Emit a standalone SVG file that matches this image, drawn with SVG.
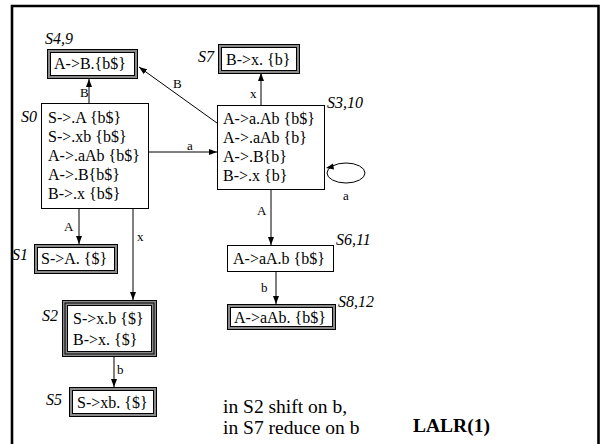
<svg xmlns="http://www.w3.org/2000/svg" width="604" height="444" viewBox="0 0 604 444" font-family="'Liberation Serif', 'Times New Roman', serif">
<defs>
<marker id="ah" markerWidth="8" markerHeight="6" refX="8" refY="3" orient="auto" markerUnits="userSpaceOnUse">
<path d="M0,0 L8,3 L0,6 Z" fill="#000"/>
</marker>
</defs>
<style>
text{font-family:'Liberation Serif','Times New Roman',serif;fill:#000}
.t{font-size:16px}
.lab{font-size:16px;font-style:italic}
.el{font-size:13px}
.big{font-size:19.5px}
.bold{font-size:19.5px;font-weight:bold}
.single{fill:#fff;stroke:#000;stroke-width:1}
.dbl-o{fill:#8a8a8a;stroke:#000;stroke-width:1}
.dbl-i{fill:#fff;stroke:#000;stroke-width:1}
.c{fill:none;stroke:#000;stroke-width:1;marker-end:url(#ah)}
</style>
<rect x="0" y="0" width="604" height="444" fill="#fff"/>
<path d="M12,444 V6 H598.5 V444" fill="none" stroke="#000" stroke-width="2.6"/>

<g id="connectors">
<line class="c" x1="89" y1="103" x2="89" y2="79"/>
<text class="el" x="80" y="97">B</text>
<line class="c" x1="217" y1="123" x2="139" y2="67"/>
<text class="el" x="173" y="88">B</text>
<line class="c" x1="148" y1="152" x2="217" y2="152"/>
<text class="el" x="187" y="150">a</text>
<line class="c" x1="261" y1="105" x2="261" y2="73"/>
<text class="el" x="250" y="98">x</text>
<ellipse cx="346" cy="173" rx="19" ry="10" fill="none" stroke="#000" stroke-width="1"/>
<path d="M326,168 L333,163.5 L334,169.5 Z" fill="#000"/>
<text class="el" x="343" y="200">a</text>
<line class="c" x1="271" y1="189" x2="271" y2="245"/>
<text class="el" x="257" y="215">A</text>
<line class="c" x1="276" y1="271" x2="276" y2="304"/>
<text class="el" x="261" y="292">b</text>
<line class="c" x1="79" y1="208" x2="79" y2="244"/>
<text class="el" x="64" y="231">A</text>
<line class="c" x1="133" y1="208" x2="133" y2="300"/>
<text class="el" x="137" y="241">x</text>
<line class="c" x1="114" y1="356" x2="114" y2="387"/>
<text class="el" x="117" y="374">b</text>
</g>

<g id="S4_9">
<rect class="dbl-o" x="47.5" y="49.5" width="90" height="29"/>
<rect class="dbl-i" x="50.5" y="52.5" width="84" height="23"/>
<text class="t" x="54" y="69">A-&gt;B.{b$}</text>
<text class="lab" x="45" y="44">S4,9</text>
</g>

<g id="S0">
<rect class="single" x="41.5" y="103.5" width="107" height="105"/>
<text class="t" x="48" y="123">S-&gt;.A {b$}</text>
<text class="t" x="48" y="142">S-&gt;.xb {b$}</text>
<text class="t" x="48" y="161">A-&gt;.aAb {b$}</text>
<text class="t" x="48" y="180">A-&gt;.B{b$}</text>
<text class="t" x="48" y="199">B-&gt;.x {b$}</text>
<text class="lab" x="21" y="122">S0</text>
</g>

<g id="S3_10">
<rect class="single" x="217.5" y="105.5" width="107" height="84"/>
<text class="t" x="223" y="124">A-&gt;a.Ab {b$}</text>
<text class="t" x="223" y="143">A-&gt;.aAb {b}</text>
<text class="t" x="223" y="162">A-&gt;.B{b}</text>
<text class="t" x="223" y="181">B-&gt;.x {b}</text>
<text class="lab" x="327" y="108">S3,10</text>
</g>

<g id="S7">
<rect class="dbl-o" x="218.5" y="44.5" width="81" height="29"/>
<rect class="dbl-i" x="221.5" y="47.5" width="75" height="23"/>
<text class="t" x="226" y="65">B-&gt;x. {b}</text>
<text class="lab" x="198" y="62">S7</text>
</g>

<g id="S6_11">
<rect class="single" x="227.5" y="245.5" width="106" height="26"/>
<text class="t" x="233" y="264">A-&gt;aA.b {b$}</text>
<text class="lab" x="336" y="245">S6,11</text>
</g>

<g id="S8_12">
<rect class="dbl-o" x="227.5" y="304.5" width="108" height="25"/>
<rect class="dbl-i" x="230.5" y="307.5" width="102" height="19"/>
<text class="t" x="234" y="323">A-&gt;aAb. {b$}</text>
<text class="lab" x="338" y="307">S8,12</text>
</g>

<g id="S1">
<rect class="dbl-o" x="34.5" y="244.5" width="83" height="29"/>
<rect class="dbl-i" x="37.5" y="247.5" width="77" height="23"/>
<text class="t" x="41" y="264">S-&gt;A. {$}</text>
<text class="lab" x="12" y="260">S1</text>
</g>

<g id="S2">
<rect class="dbl-o" x="62.5" y="300.5" width="94" height="56"/>
<rect class="dbl-o" x="65" y="303" width="89" height="51"/>
<rect class="dbl-i" x="67.5" y="305.5" width="84" height="46"/>
<text class="t" x="73" y="324">S-&gt;x.b {$}</text>
<text class="t" x="73" y="345">B-&gt;x. {$}</text>
<text class="lab" x="42" y="321">S2</text>
</g>

<g id="S5">
<rect class="dbl-o" x="69.5" y="387.5" width="87" height="29"/>
<rect class="dbl-i" x="72.5" y="390.5" width="81" height="23"/>
<text class="t" x="77" y="408">S-&gt;xb. {$}</text>
<text class="lab" x="46" y="405">S5</text>
</g>

<g id="notes">
<text class="big" x="223" y="413">in S2 shift on b,</text>
<text class="big" x="223" y="434">in S7 reduce on b</text>
<text class="bold" x="413" y="432">LALR(1)</text>
</g>
</svg>
